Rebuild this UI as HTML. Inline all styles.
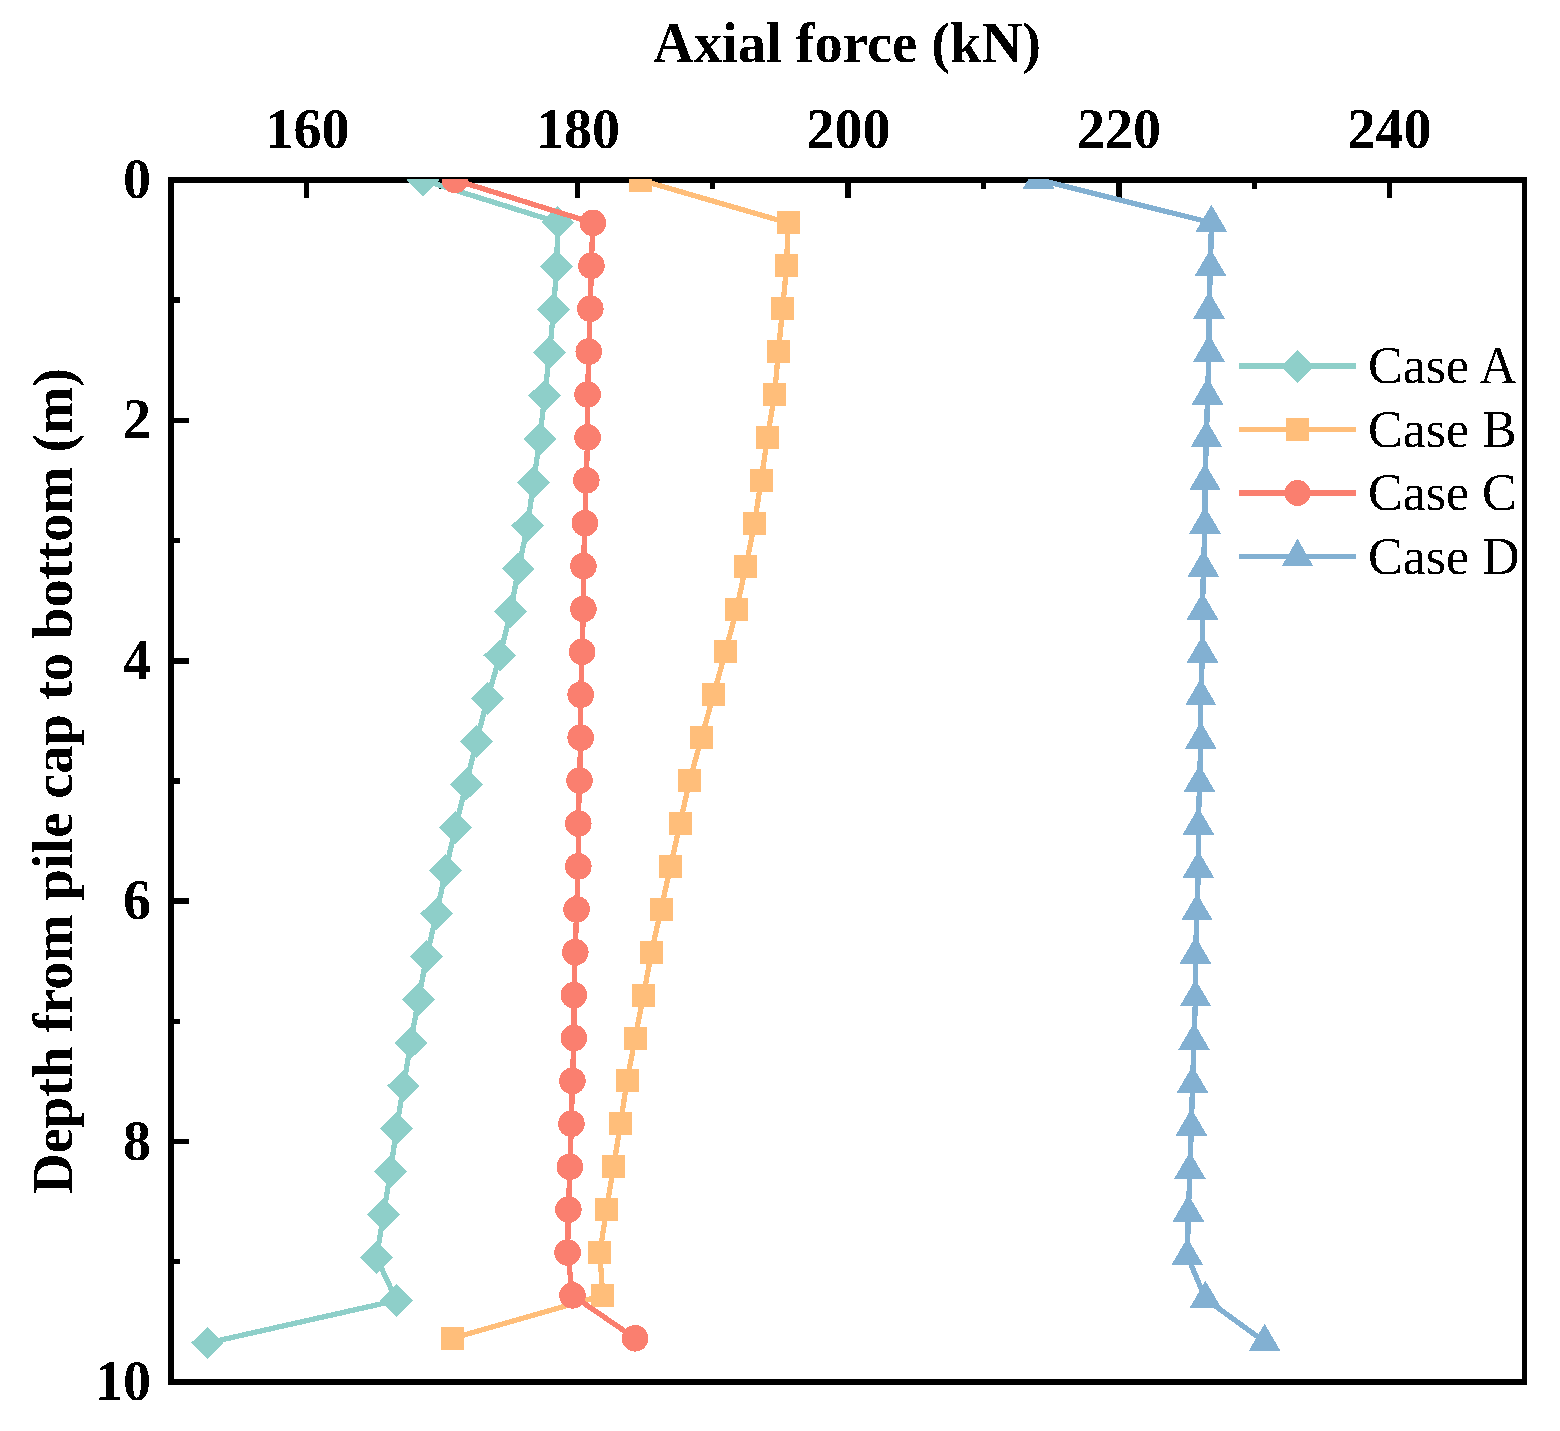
<!DOCTYPE html>
<html><head><meta charset="utf-8"><title>Axial force vs depth</title>
<style>html,body{margin:0;padding:0;background:#fff;}body{width:1560px;height:1431px;overflow:hidden;}svg{display:block;}</style>
</head><body>
<svg width="1560" height="1431" viewBox="0 0 1560 1431">
<defs><clipPath id="pc"><rect x="171" y="179" width="1353" height="1203"/></clipPath><filter id="al" x="0" y="0" width="1560" height="1431" filterUnits="userSpaceOnUse"><feComponentTransfer><feFuncA type="discrete" tableValues="0 1"/></feComponentTransfer></filter></defs>
<rect width="1560" height="1431" fill="#fff"/>
<g fill="#000" shape-rendering="crispEdges"><rect x="304" y="183" width="5" height="15"/><rect x="575" y="183" width="5" height="15"/><rect x="845" y="183" width="6" height="15"/><rect x="1116" y="183" width="6" height="15"/><rect x="1387" y="183" width="5" height="15"/><rect x="439" y="183" width="6" height="6"/><rect x="710" y="183" width="5" height="6"/><rect x="981" y="183" width="5" height="6"/><rect x="1252" y="183" width="5" height="6"/><rect x="174" y="418" width="15" height="5"/><rect x="174" y="658" width="15" height="6"/><rect x="174" y="898" width="15" height="6"/><rect x="174" y="1139" width="15" height="5"/><rect x="174" y="297" width="6" height="6"/><rect x="174" y="538" width="6" height="5"/><rect x="174" y="778" width="6" height="6"/><rect x="174" y="1019" width="6" height="5"/><rect x="174" y="1259" width="6" height="5"/><rect x="168" y="177" width="6" height="1208"/><rect x="1522" y="177" width="5" height="1208"/><rect x="168" y="177" width="1359" height="6"/><rect x="168" y="1379" width="1359" height="6"/></g>
<g clip-path="url(#pc)" shape-rendering="crispEdges">
<polyline points="422.7,180 557.9,222.4 556.6,266.4 553.6,309.4 549.6,352.8 544.7,395.8 539.7,439 533.5,482.5 527.6,525.9 518.4,568.9 510.6,611.8 500,655.5 487.5,698.4 476.5,741.2 466.1,784.5 455.5,827.7 445.6,870.5 436.6,913.9 426.5,956.8 418.5,999.8 410.6,1043 403.5,1086 396.5,1128.5 390.5,1171.9 383.5,1214.5 376.5,1257.5 396.5,1300.4 207.5,1343" fill="none" stroke="#8ECFC9" stroke-width="5.3" stroke-linejoin="round"/>
<path d="M422.7 163.6L439.2 180L422.7 196.4L406.2 180Z" fill="#8ECFC9"/>
<path d="M557.9 206L574.4 222.4L557.9 238.8L541.4 222.4Z" fill="#8ECFC9"/>
<path d="M556.6 250L573.1 266.4L556.6 282.8L540.1 266.4Z" fill="#8ECFC9"/>
<path d="M553.6 293L570.1 309.4L553.6 325.8L537.1 309.4Z" fill="#8ECFC9"/>
<path d="M549.6 336.4L566.1 352.8L549.6 369.2L533.1 352.8Z" fill="#8ECFC9"/>
<path d="M544.7 379.4L561.2 395.8L544.7 412.2L528.2 395.8Z" fill="#8ECFC9"/>
<path d="M539.7 422.6L556.2 439L539.7 455.4L523.2 439Z" fill="#8ECFC9"/>
<path d="M533.5 466.1L550 482.5L533.5 498.9L517 482.5Z" fill="#8ECFC9"/>
<path d="M527.6 509.5L544.1 525.9L527.6 542.3L511.1 525.9Z" fill="#8ECFC9"/>
<path d="M518.4 552.5L534.9 568.9L518.4 585.3L501.9 568.9Z" fill="#8ECFC9"/>
<path d="M510.6 595.4L527.1 611.8L510.6 628.2L494.1 611.8Z" fill="#8ECFC9"/>
<path d="M500 639.1L516.5 655.5L500 671.9L483.5 655.5Z" fill="#8ECFC9"/>
<path d="M487.5 682L504 698.4L487.5 714.8L471 698.4Z" fill="#8ECFC9"/>
<path d="M476.5 724.8L493 741.2L476.5 757.6L460 741.2Z" fill="#8ECFC9"/>
<path d="M466.1 768.1L482.6 784.5L466.1 800.9L449.6 784.5Z" fill="#8ECFC9"/>
<path d="M455.5 811.3L472 827.7L455.5 844.1L439 827.7Z" fill="#8ECFC9"/>
<path d="M445.6 854.1L462.1 870.5L445.6 886.9L429.1 870.5Z" fill="#8ECFC9"/>
<path d="M436.6 897.5L453.1 913.9L436.6 930.3L420.1 913.9Z" fill="#8ECFC9"/>
<path d="M426.5 940.4L443 956.8L426.5 973.2L410 956.8Z" fill="#8ECFC9"/>
<path d="M418.5 983.4L435 999.8L418.5 1016.2L402 999.8Z" fill="#8ECFC9"/>
<path d="M410.6 1026.6L427.1 1043L410.6 1059.4L394.1 1043Z" fill="#8ECFC9"/>
<path d="M403.5 1069.6L420 1086L403.5 1102.4L387 1086Z" fill="#8ECFC9"/>
<path d="M396.5 1112.1L413 1128.5L396.5 1144.9L380 1128.5Z" fill="#8ECFC9"/>
<path d="M390.5 1155.5L407 1171.9L390.5 1188.3L374 1171.9Z" fill="#8ECFC9"/>
<path d="M383.5 1198.1L400 1214.5L383.5 1230.9L367 1214.5Z" fill="#8ECFC9"/>
<path d="M376.5 1241.1L393 1257.5L376.5 1273.9L360 1257.5Z" fill="#8ECFC9"/>
<path d="M396.5 1284L413 1300.4L396.5 1316.8L380 1300.4Z" fill="#8ECFC9"/>
<path d="M207.5 1326.6L224 1343L207.5 1359.4L191 1343Z" fill="#8ECFC9"/>
<polyline points="640.4,180 788,222.9 786.6,265.8 782.6,308.7 778.4,351.6 774.6,394.5 767.5,437.4 761.1,480.3 754.6,523.2 745.9,566.1 736.6,609 725.5,651.9 713.5,694.8 701.6,737.7 689.6,780.6 680,823.5 670.6,866.4 661,909.3 651.5,952.2 643.5,995.1 635.2,1038 627,1080.9 620.5,1123.8 613.6,1166.7 606.5,1209.6 599.9,1252.5 602.6,1295.4 452.5,1338.3" fill="none" stroke="#FFBE7A" stroke-width="5.3" stroke-linejoin="round"/>
<rect x="628.9" y="168.5" width="23" height="23" fill="#FFBE7A"/>
<rect x="776.5" y="211.4" width="23" height="23" fill="#FFBE7A"/>
<rect x="775.1" y="254.3" width="23" height="23" fill="#FFBE7A"/>
<rect x="771.1" y="297.2" width="23" height="23" fill="#FFBE7A"/>
<rect x="766.9" y="340.1" width="23" height="23" fill="#FFBE7A"/>
<rect x="763.1" y="383" width="23" height="23" fill="#FFBE7A"/>
<rect x="756" y="425.9" width="23" height="23" fill="#FFBE7A"/>
<rect x="749.6" y="468.8" width="23" height="23" fill="#FFBE7A"/>
<rect x="743.1" y="511.7" width="23" height="23" fill="#FFBE7A"/>
<rect x="734.4" y="554.6" width="23" height="23" fill="#FFBE7A"/>
<rect x="725.1" y="597.5" width="23" height="23" fill="#FFBE7A"/>
<rect x="714" y="640.4" width="23" height="23" fill="#FFBE7A"/>
<rect x="702" y="683.3" width="23" height="23" fill="#FFBE7A"/>
<rect x="690.1" y="726.2" width="23" height="23" fill="#FFBE7A"/>
<rect x="678.1" y="769.1" width="23" height="23" fill="#FFBE7A"/>
<rect x="668.5" y="812" width="23" height="23" fill="#FFBE7A"/>
<rect x="659.1" y="854.9" width="23" height="23" fill="#FFBE7A"/>
<rect x="649.5" y="897.8" width="23" height="23" fill="#FFBE7A"/>
<rect x="640" y="940.7" width="23" height="23" fill="#FFBE7A"/>
<rect x="632" y="983.6" width="23" height="23" fill="#FFBE7A"/>
<rect x="623.7" y="1026.5" width="23" height="23" fill="#FFBE7A"/>
<rect x="615.5" y="1069.4" width="23" height="23" fill="#FFBE7A"/>
<rect x="609" y="1112.3" width="23" height="23" fill="#FFBE7A"/>
<rect x="602.1" y="1155.2" width="23" height="23" fill="#FFBE7A"/>
<rect x="595" y="1198.1" width="23" height="23" fill="#FFBE7A"/>
<rect x="588.4" y="1241" width="23" height="23" fill="#FFBE7A"/>
<rect x="591.1" y="1283.9" width="23" height="23" fill="#FFBE7A"/>
<rect x="441" y="1326.8" width="23" height="23" fill="#FFBE7A"/>
<polyline points="455,180 592.8,222.9 591.4,265.8 590.3,308.7 588.8,351.6 587.6,394.5 587.6,437.4 586.3,480.3 584.9,523.2 583.4,566.1 583.4,609 582.1,651.9 580.7,694.8 580.7,737.7 579.5,780.6 578.3,823.5 578.3,866.4 576.6,909.3 575.3,952.2 573.9,995.1 573.9,1038 572.4,1080.9 571.4,1123.8 569.9,1166.7 568.4,1209.6 567.6,1252.5 572.5,1295.4 635.1,1338.3" fill="none" stroke="#FA7F6F" stroke-width="5.3" stroke-linejoin="round"/>
<circle cx="455" cy="180" r="13.3" fill="#FA7F6F"/>
<circle cx="592.8" cy="222.9" r="13.3" fill="#FA7F6F"/>
<circle cx="591.4" cy="265.8" r="13.3" fill="#FA7F6F"/>
<circle cx="590.3" cy="308.7" r="13.3" fill="#FA7F6F"/>
<circle cx="588.8" cy="351.6" r="13.3" fill="#FA7F6F"/>
<circle cx="587.6" cy="394.5" r="13.3" fill="#FA7F6F"/>
<circle cx="587.6" cy="437.4" r="13.3" fill="#FA7F6F"/>
<circle cx="586.3" cy="480.3" r="13.3" fill="#FA7F6F"/>
<circle cx="584.9" cy="523.2" r="13.3" fill="#FA7F6F"/>
<circle cx="583.4" cy="566.1" r="13.3" fill="#FA7F6F"/>
<circle cx="583.4" cy="609" r="13.3" fill="#FA7F6F"/>
<circle cx="582.1" cy="651.9" r="13.3" fill="#FA7F6F"/>
<circle cx="580.7" cy="694.8" r="13.3" fill="#FA7F6F"/>
<circle cx="580.7" cy="737.7" r="13.3" fill="#FA7F6F"/>
<circle cx="579.5" cy="780.6" r="13.3" fill="#FA7F6F"/>
<circle cx="578.3" cy="823.5" r="13.3" fill="#FA7F6F"/>
<circle cx="578.3" cy="866.4" r="13.3" fill="#FA7F6F"/>
<circle cx="576.6" cy="909.3" r="13.3" fill="#FA7F6F"/>
<circle cx="575.3" cy="952.2" r="13.3" fill="#FA7F6F"/>
<circle cx="573.9" cy="995.1" r="13.3" fill="#FA7F6F"/>
<circle cx="573.9" cy="1038" r="13.3" fill="#FA7F6F"/>
<circle cx="572.4" cy="1080.9" r="13.3" fill="#FA7F6F"/>
<circle cx="571.4" cy="1123.8" r="13.3" fill="#FA7F6F"/>
<circle cx="569.9" cy="1166.7" r="13.3" fill="#FA7F6F"/>
<circle cx="568.4" cy="1209.6" r="13.3" fill="#FA7F6F"/>
<circle cx="567.6" cy="1252.5" r="13.3" fill="#FA7F6F"/>
<circle cx="572.5" cy="1295.4" r="13.3" fill="#FA7F6F"/>
<circle cx="635.1" cy="1338.3" r="13.3" fill="#FA7F6F"/>
<polyline points="1038.6,179.7 1211.4,222.7 1210.5,266.8 1209,309.5 1209,352.5 1207.5,395.5 1206.5,438 1205,481.1 1205,524.5 1203.4,567.7 1202.5,610.5 1202.5,653.5 1200.8,696.4 1200.8,739.7 1199.5,782.7 1198.4,825.5 1198.4,868.7 1197,911.4 1195.5,954.6 1195.5,997.4 1194,1040.8 1192.5,1083.8 1191.4,1126.5 1189.9,1169.8 1188.4,1212.5 1187.3,1255.8 1205.5,1298.8 1264.6,1341.8" fill="none" stroke="#82B0D2" stroke-width="5.3" stroke-linejoin="round"/>
<path d="M1038.6 161.7L1054.4 188.7L1022.8 188.7Z" fill="#82B0D2"/>
<path d="M1211.4 204.7L1227.2 231.7L1195.6 231.7Z" fill="#82B0D2"/>
<path d="M1210.5 248.8L1226.3 275.8L1194.7 275.8Z" fill="#82B0D2"/>
<path d="M1209 291.5L1224.8 318.5L1193.2 318.5Z" fill="#82B0D2"/>
<path d="M1209 334.5L1224.8 361.5L1193.2 361.5Z" fill="#82B0D2"/>
<path d="M1207.5 377.5L1223.3 404.5L1191.7 404.5Z" fill="#82B0D2"/>
<path d="M1206.5 420L1222.3 447L1190.7 447Z" fill="#82B0D2"/>
<path d="M1205 463.1L1220.8 490.1L1189.2 490.1Z" fill="#82B0D2"/>
<path d="M1205 506.5L1220.8 533.5L1189.2 533.5Z" fill="#82B0D2"/>
<path d="M1203.4 549.7L1219.2 576.7L1187.6 576.7Z" fill="#82B0D2"/>
<path d="M1202.5 592.5L1218.3 619.5L1186.7 619.5Z" fill="#82B0D2"/>
<path d="M1202.5 635.5L1218.3 662.5L1186.7 662.5Z" fill="#82B0D2"/>
<path d="M1200.8 678.4L1216.6 705.4L1185 705.4Z" fill="#82B0D2"/>
<path d="M1200.8 721.7L1216.6 748.7L1185 748.7Z" fill="#82B0D2"/>
<path d="M1199.5 764.7L1215.3 791.7L1183.7 791.7Z" fill="#82B0D2"/>
<path d="M1198.4 807.5L1214.2 834.5L1182.6 834.5Z" fill="#82B0D2"/>
<path d="M1198.4 850.7L1214.2 877.7L1182.6 877.7Z" fill="#82B0D2"/>
<path d="M1197 893.4L1212.8 920.4L1181.2 920.4Z" fill="#82B0D2"/>
<path d="M1195.5 936.6L1211.3 963.6L1179.7 963.6Z" fill="#82B0D2"/>
<path d="M1195.5 979.4L1211.3 1006.4L1179.7 1006.4Z" fill="#82B0D2"/>
<path d="M1194 1022.8L1209.8 1049.8L1178.2 1049.8Z" fill="#82B0D2"/>
<path d="M1192.5 1065.8L1208.3 1092.8L1176.7 1092.8Z" fill="#82B0D2"/>
<path d="M1191.4 1108.5L1207.2 1135.5L1175.6 1135.5Z" fill="#82B0D2"/>
<path d="M1189.9 1151.8L1205.7 1178.8L1174.1 1178.8Z" fill="#82B0D2"/>
<path d="M1188.4 1194.5L1204.2 1221.5L1172.6 1221.5Z" fill="#82B0D2"/>
<path d="M1187.3 1237.8L1203.1 1264.8L1171.5 1264.8Z" fill="#82B0D2"/>
<path d="M1205.5 1280.8L1221.3 1307.8L1189.7 1307.8Z" fill="#82B0D2"/>
<path d="M1264.6 1323.8L1280.4 1350.8L1248.8 1350.8Z" fill="#82B0D2"/>
</g>
<g shape-rendering="crispEdges">
<rect x="1239" y="363" width="117" height="6" fill="#8ECFC9"/>
<path d="M1297.5 350L1314.3 366.6L1297.5 383.2L1280.7 366.6Z" fill="#8ECFC9"/>
<rect x="1239" y="427" width="117" height="5" fill="#FFBE7A"/>
<rect x="1286" y="417.8" width="23" height="23" fill="#FFBE7A"/>
<rect x="1239" y="490" width="117" height="6" fill="#FA7F6F"/>
<circle cx="1297.5" cy="493" r="13" fill="#FA7F6F"/>
<rect x="1239" y="554" width="117" height="5" fill="#82B0D2" shape-rendering="crispEdges"/>
<path d="M1297.5 538.67L1313 565.87L1282 565.87Z" fill="#82B0D2"/>
</g>
<g filter="url(#al)">
<text x="1368" y="383" font-family="Liberation Serif, Times New Roman, serif" font-size="52">Case A</text>
<text x="1368" y="446.5" font-family="Liberation Serif, Times New Roman, serif" font-size="52">Case B</text>
<text x="1368" y="510" font-family="Liberation Serif, Times New Roman, serif" font-size="52">Case C</text>
<text x="1368" y="573.5" font-family="Liberation Serif, Times New Roman, serif" font-size="52">Case D</text>
<text x="307.5" y="148" font-family="Liberation Serif, Times New Roman, serif" font-weight="bold" font-size="56" text-anchor="middle">160</text>
<text x="578" y="148" font-family="Liberation Serif, Times New Roman, serif" font-weight="bold" font-size="56" text-anchor="middle">180</text>
<text x="848.5" y="148" font-family="Liberation Serif, Times New Roman, serif" font-weight="bold" font-size="56" text-anchor="middle">200</text>
<text x="1119" y="148" font-family="Liberation Serif, Times New Roman, serif" font-weight="bold" font-size="56" text-anchor="middle">220</text>
<text x="1389.5" y="148" font-family="Liberation Serif, Times New Roman, serif" font-weight="bold" font-size="56" text-anchor="middle">240</text>
<text x="151" y="198" font-family="Liberation Serif, Times New Roman, serif" font-weight="bold" font-size="56" text-anchor="end">0</text>
<text x="151" y="438.38" font-family="Liberation Serif, Times New Roman, serif" font-weight="bold" font-size="56" text-anchor="end">2</text>
<text x="151" y="678.76" font-family="Liberation Serif, Times New Roman, serif" font-weight="bold" font-size="56" text-anchor="end">4</text>
<text x="151" y="919.14" font-family="Liberation Serif, Times New Roman, serif" font-weight="bold" font-size="56" text-anchor="end">6</text>
<text x="151" y="1159.52" font-family="Liberation Serif, Times New Roman, serif" font-weight="bold" font-size="56" text-anchor="end">8</text>
<text x="151" y="1399.9" font-family="Liberation Serif, Times New Roman, serif" font-weight="bold" font-size="56" text-anchor="end">10</text>
<text x="847" y="62" font-family="Liberation Serif, Times New Roman, serif" font-weight="bold" font-size="56.5" text-anchor="middle">Axial force (kN)</text>
<text transform="translate(72 781) rotate(-90)" x="0" y="0" font-family="Liberation Serif, Times New Roman, serif" font-weight="bold" font-size="56.4" text-anchor="middle">Depth from pile cap to bottom (m)</text>
</g>
</svg>
</body></html>
